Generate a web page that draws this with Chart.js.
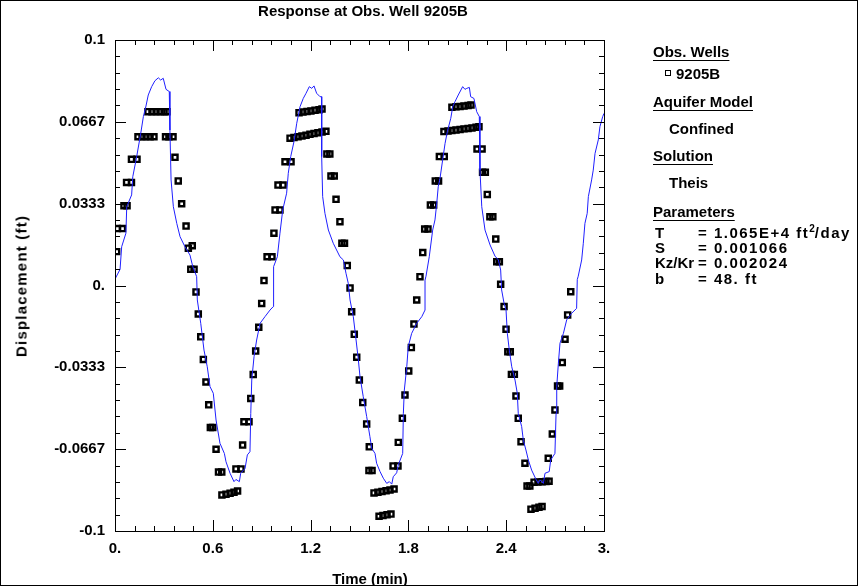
<!DOCTYPE html>
<html>
<head>
<meta charset="utf-8">
<title>Response at Obs. Well 9205B</title>
<script src="https://cdn.jsdelivr.net/npm/chart.js@4.4.1/dist/chart.umd.min.js"></script>
<style>
  body { margin: 0; background: #fff; }
  #wrap { position: relative; width: 858px; height: 586px; overflow: hidden; }
  #wrap canvas { position: absolute; left: 0; top: 0; }
  #frame { position: absolute; left: 0; top: 0; width: 858px; height: 586px; box-sizing: border-box; border: 1px solid #000; pointer-events: none; }
  .info { position: absolute; font: bold 15px "Liberation Sans", Arial, sans-serif; line-height: 15px; color: #000; white-space: nowrap; }
  .hd { text-decoration: underline; text-decoration-thickness: 1px; text-underline-offset: 3px; }
  .nm { display: inline-block; width: 43px; }
  .val { letter-spacing: 1.5px; }
  .box { position: absolute; width: 4px; height: 4px; border: 1.2px solid #000; }
  sup { font-size: 10px; line-height: 0; vertical-align: 6px; letter-spacing: 0; }
  .ctr { transform: translateX(-50%); }
  .rot { transform: translate(-50%, -50%) rotate(-90deg); letter-spacing: 1.2px; }
</style>
</head>
<body>
<div id="wrap">
  <canvas id="chart" width="858" height="586"></canvas>
  <div class="info ctr" style="left:363px; top:3px;">Response at Obs. Well 9205B</div>
  <div class="info ctr" style="left:370px; top:571px;">Time (min)</div>
  <div class="info rot" style="left:20.5px; top:285.5px;">Displacement (ft)</div>
  <div class="info hd" style="left:653px; top:44px;">Obs. Wells</div>
  <div class="box" style="left:665px; top:70px;"></div>
  <div class="info" style="left:676px; top:66px;">9205B</div>
  <div class="info hd" style="left:653px; top:94px;">Aquifer Model</div>
  <div class="info" style="left:669px; top:121px;">Confined</div>
  <div class="info hd" style="left:653px; top:148px;">Solution</div>
  <div class="info" style="left:669px; top:175px;">Theis</div>
  <div class="info hd" style="left:653px; top:204px;">Parameters</div>
  <div class="info" style="left:655px; top:225px;"><span class="nm">T</span><span class="val">= 1.065E+4 ft<sup>2</sup>/day</span></div>
  <div class="info" style="left:655px; top:240px;"><span class="nm">S</span><span class="val">= 0.001066</span></div>
  <div class="info" style="left:655px; top:255px;"><span class="nm">Kz/Kr</span><span class="val">= 0.002024</span></div>
  <div class="info" style="left:655px; top:271px;"><span class="nm">b</span><span class="val">= 48. ft</span></div>
  <div id="frame"></div>
</div>
<script>
// observed displacement at well 9205B (time in min, displacement in ft)
const obsTime = [
  0.010, 0.015, 0.046, 0.055, 0.074, 0.071, 0.101, 0.101, 0.135,
  0.141, 0.166, 0.190, 0.215, 0.239,
  0.202, 0.227, 0.252, 0.276, 0.301, 0.319,
  0.310, 0.331, 0.356, 0.368, 0.388, 0.409, 0.436, 0.450, 0.474, 0.465, 0.485,
  0.497, 0.511, 0.526, 0.542, 0.558, 0.575, 0.585, 0.600, 0.620, 0.635, 0.655,
  0.656, 0.681, 0.706, 0.730, 0.752,
  0.742, 0.773, 0.783, 0.791, 0.822, 0.833, 0.848, 0.863, 0.882, 0.900, 0.914,
  0.933, 0.963, 0.975, 0.982, 1.012, 1.000, 1.031, 1.043, 1.080,
  1.074, 1.098, 1.123, 1.147, 1.172, 1.196, 1.221, 1.245, 1.270, 1.294,
  1.129, 1.153, 1.178, 1.202, 1.227, 1.252, 1.270,
  1.300, 1.318, 1.325, 1.345, 1.356, 1.380, 1.392, 1.408, 1.425,
  1.442, 1.452, 1.468, 1.483, 1.499, 1.520, 1.544, 1.560, 1.558, 1.577,
  1.589, 1.613, 1.638, 1.663, 1.687, 1.712,
  1.620, 1.644, 1.669, 1.693,
  1.706, 1.736, 1.738, 1.763, 1.779, 1.802, 1.818, 1.834, 1.851, 1.871, 1.888,
  1.900, 1.920, 1.935, 1.955, 1.965, 1.985, 1.990, 2.020,
  2.018, 2.043, 2.067, 2.092, 2.117, 2.141, 2.166, 2.190, 2.215, 2.233,
  2.067, 2.092, 2.117, 2.141, 2.166, 2.184,
  2.221, 2.252, 2.255, 2.272, 2.284, 2.300, 2.318, 2.336, 2.342, 2.358, 2.366,
  2.387, 2.399, 2.410, 2.425, 2.432, 2.450, 2.460, 2.474, 2.491, 2.515, 2.528, 2.545,
  2.571, 2.595, 2.620, 2.644, 2.663,
  2.552, 2.577, 2.601, 2.620,
  2.658, 2.683, 2.699, 2.715, 2.728, 2.744, 2.761, 2.777, 2.796
];
const obsDisp = [
  0.0138, 0.0232, 0.0232, 0.0325, 0.0325, 0.0420, 0.0420, 0.0514, 0.0514,
  0.0606, 0.0606, 0.0606, 0.0606, 0.0606,
  0.0708, 0.0708, 0.0708, 0.0708, 0.0708, 0.0708,
  0.0606, 0.0606, 0.0606, 0.0522, 0.0426, 0.0333, 0.0242, 0.0152, 0.0162, 0.0066, 0.0066,
  -0.0026, -0.0116, -0.0209, -0.0301, -0.0393, -0.0486, -0.0578, -0.0578, -0.0667, -0.0760, -0.0760,
  -0.0853, -0.0850, -0.0846, -0.0842, -0.0837,
  -0.0747, -0.0747, -0.0650, -0.0555, -0.0555, -0.0460, -0.0363, -0.0267, -0.0170, -0.0073, 0.0020,
  0.0117, 0.0117, 0.0213, 0.0308, 0.0308, 0.0409, 0.0409, 0.0504, 0.0504,
  0.0600, 0.0603, 0.0606, 0.0609, 0.0612, 0.0616, 0.0619, 0.0622, 0.0625, 0.0628,
  0.0704, 0.0707, 0.0709, 0.0711, 0.0714, 0.0716, 0.0719,
  0.0536, 0.0536, 0.0446, 0.0446, 0.0351, 0.0260, 0.0172, 0.0172, 0.0081,
  -0.0010, -0.0107, -0.0199, -0.0292, -0.0385, -0.0477, -0.0564, -0.0657, -0.0754, -0.0754,
  -0.0845, -0.0842, -0.0839, -0.0836, -0.0833, -0.0829,
  -0.0940, -0.0937, -0.0934, -0.0931,
  -0.0735, -0.0735, -0.0639, -0.0541, -0.0446, -0.0348, -0.0253, -0.0157, -0.0059, 0.0036, 0.0134,
  0.0230, 0.0230, 0.0328, 0.0328, 0.0426, 0.0426, 0.0525, 0.0525,
  0.0627, 0.0629, 0.0631, 0.0633, 0.0635, 0.0638, 0.0640, 0.0642, 0.0645, 0.0647,
  0.0726, 0.0728, 0.0729, 0.0731, 0.0733, 0.0735,
  0.0556, 0.0556, 0.0461, 0.0461, 0.0371, 0.0280, 0.0280, 0.0189, 0.0097, 0.0097, 0.0005,
  -0.0086, -0.0178, -0.0270, -0.0270, -0.0362, -0.0362, -0.0450, -0.0541, -0.0636, -0.0724, -0.0817, -0.0817,
  -0.0801, -0.0800, -0.0799, -0.0798, -0.0797,
  -0.0911, -0.0907, -0.0903, -0.0900,
  -0.0704, -0.0605, -0.0507, -0.0409, -0.0409, -0.0314, -0.0219, -0.0120, -0.0025
];

// Theis type curve (solid blue)
const modelTime = [
  0.000, 0.031, 0.041, 0.067, 0.072, 0.102, 0.109, 0.133, 0.158, 0.174, 0.190, 0.204, 0.225, 0.245,
  0.266, 0.280, 0.296, 0.313, 0.333, 0.337, 0.344, 0.358, 0.379, 0.399, 0.429, 0.460, 0.477, 0.501,
  0.505, 0.526, 0.546, 0.566, 0.583, 0.603, 0.620, 0.644, 0.671, 0.681, 0.706, 0.730, 0.742, 0.763,
  0.771, 0.798, 0.812, 0.828, 0.833, 0.839, 0.853, 0.869, 0.890, 0.920, 0.951, 0.971, 0.971, 0.975,
  0.996, 1.012, 1.029, 1.053, 1.063, 1.078, 1.098, 1.115, 1.135, 1.155, 1.172, 1.192, 1.207, 1.221,
  1.237, 1.258, 1.268, 1.268, 1.274, 1.288, 1.309, 1.339, 1.380, 1.401, 1.417, 1.431, 1.442, 1.462,
  1.479, 1.493, 1.503, 1.523, 1.544, 1.564, 1.575, 1.595, 1.605, 1.626, 1.646, 1.667, 1.683, 1.698,
  1.707, 1.728, 1.738, 1.765, 1.769, 1.775, 1.790, 1.799, 1.820, 1.851, 1.882, 1.902, 1.902, 1.908,
  1.928, 1.949, 1.963, 1.974, 1.983, 1.994, 2.010, 2.025, 2.039, 2.060, 2.072, 2.086, 2.106, 2.133,
  2.147, 2.158, 2.174, 2.182, 2.202, 2.219, 2.235, 2.239, 2.250, 2.270, 2.301, 2.331, 2.352, 2.366,
  2.372, 2.387, 2.399, 2.407, 2.419, 2.434, 2.454, 2.468, 2.474, 2.495, 2.505, 2.521, 2.536, 2.556,
  2.583, 2.597, 2.607, 2.628, 2.638, 2.664, 2.673, 2.699, 2.706, 2.710, 2.720, 2.730, 2.751, 2.771,
  2.802, 2.832, 2.836, 2.842, 2.863, 2.873, 2.883, 2.897, 2.904, 2.924, 2.934, 2.945, 2.965, 2.975,
  2.992, 3.000
];
const modelDisp = [
  0.0026, 0.0066, 0.0158, 0.0213, 0.0321, 0.0369, 0.0443, 0.0525, 0.0620, 0.0688, 0.0731, 0.0776, 0.0810, 0.0834,
  0.0846, 0.0837, 0.0844, 0.0799, 0.0790, 0.0633, 0.0430, 0.0321, 0.0253, 0.0199, 0.0158, 0.0124, 0.0077, 0.0036,
  -0.0059, -0.0154, -0.0263, -0.0331, -0.0412, -0.0439, -0.0548, -0.0643, -0.0684, -0.0718, -0.0765, -0.0799, -0.0790, -0.0799,
  -0.0765, -0.0745, -0.0690, -0.0677, -0.0521, -0.0385, -0.0290, -0.0222, -0.0154, -0.0127, -0.0100, -0.0086, 0.0022, 0.0077,
  0.0117, 0.0213, 0.0308, 0.0376, 0.0457, 0.0525, 0.0586, 0.0661, 0.0728, 0.0762, 0.0783, 0.0810, 0.0803, 0.0813,
  0.0783, 0.0769, 0.0769, 0.0525, 0.0362, 0.0294, 0.0226, 0.0172, 0.0117, 0.0104, 0.0050, 0.0009, -0.0059, -0.0127,
  -0.0222, -0.0303, -0.0371, -0.0453, -0.0534, -0.0616, -0.0663, -0.0684, -0.0724, -0.0758, -0.0785, -0.0806, -0.0799, -0.0809,
  -0.0779, -0.0763, -0.0731, -0.0684, -0.0521, -0.0426, -0.0331, -0.0249, -0.0195, -0.0154, -0.0127, -0.0100, 0.0022, 0.0038,
  0.0117, 0.0226, 0.0267, 0.0335, 0.0402, 0.0437, 0.0511, 0.0579, 0.0627, 0.0681, 0.0728, 0.0749, 0.0776, 0.0810,
  0.0799, 0.0803, 0.0807, 0.0769, 0.0762, 0.0708, 0.0688, 0.0470, 0.0321, 0.0226, 0.0165, 0.0120, 0.0104, 0.0063,
  -0.0018, -0.0073, -0.0100, -0.0195, -0.0263, -0.0331, -0.0385, -0.0439, -0.0521, -0.0575, -0.0630, -0.0670, -0.0711, -0.0752,
  -0.0790, -0.0806, -0.0792, -0.0806, -0.0765, -0.0758, -0.0711, -0.0684, -0.0521, -0.0412, -0.0317, -0.0235, -0.0195, -0.0140,
  -0.0113, -0.0093, 0.0024, 0.0038, 0.0104, 0.0172, 0.0253, 0.0294, 0.0362, 0.0430, 0.0470, 0.0538, 0.0593, 0.0647,
  0.0688, 0.0701
];

const xTickVals = [0, 0.6, 1.2, 1.8, 2.4, 3];
const xTickText = ['0.', '0.6', '1.2', '1.8', '2.4', '3.'];
const yTickVals = [-0.1, -0.0667, -0.0333, 0, 0.0333, 0.0667, 0.1];
const yTickText = ['-0.1', '-0.0667', '-0.0333', '0.', '0.0333', '0.0667', '0.1'];

const FONT = '"Liberation Sans", Arial, sans-serif';

// plot frame with inward major/minor ticks on all four sides
const frameTicks = {
  id: 'frameTicks',
  afterDraw(chart) {
    const { ctx, chartArea: a } = chart;
    const xs = chart.scales.x, ys = chart.scales.y;
    const L = Math.round(a.left), R = Math.round(a.right);
    const T = Math.round(a.top), B = Math.round(a.bottom);
    ctx.save();
    ctx.fillStyle = '#000';
    for (let i = 0; i <= 25; i++) {
      const px = Math.round(xs.getPixelForValue(i * 0.12));
      const len = i % 5 === 0 ? 11 : 5;
      ctx.fillRect(px, B - len, 1, len);
      ctx.fillRect(px, T, 1, len);
    }
    for (let i = 0; i <= 30; i++) {
      const py = Math.round(ys.getPixelForValue(-0.1 + i * 0.2 / 30));
      const len = i % 5 === 0 ? 11 : 5;
      ctx.fillRect(L, py, len, 1);
      ctx.fillRect(R - len, py, len, 1);
    }
    ctx.fillRect(L, T, R - L + 1, 1);
    ctx.fillRect(L, B, R - L + 1, 1);
    ctx.fillRect(L, T, 1, B - T + 1);
    ctx.fillRect(R, T, 1, B - T + 1);
    ctx.restore();
  }
};

const ctx = document.getElementById('chart').getContext('2d');
new Chart(ctx, {
  type: 'scatter',
  data: {
    datasets: [
      {
        label: 'Theis',
        data: modelTime.map((t, i) => ({ x: t, y: modelDisp[i] })),
        showLine: true,
        borderColor: '#1f1fff',
        borderWidth: 1,
        pointRadius: 0,
        tension: 0
      },
      {
        label: '9205B',
        data: obsTime.map((t, i) => ({ x: t, y: obsDisp[i] })),
        pointStyle: 'rect',
        pointRadius: 3.6,
        borderWidth: 2.4,
        borderColor: '#000',
        backgroundColor: 'rgba(0,0,0,0)'
      }
    ]
  },
  options: {
    responsive: false,
    animation: false,
    devicePixelRatio: 1,
    layout: { padding: { left: 0, right: 254, top: 40, bottom: 0 } },
    plugins: {
      legend: { display: false },
      tooltip: { enabled: false },
      title: { display: false }
    },
    scales: {
      x: {
        type: 'linear',
        min: 0,
        max: 3,
        grid: { display: false, drawTicks: false },
        border: { display: false },
        afterBuildTicks: s => { s.ticks = xTickVals.map(v => ({ value: v })); },
        afterFit: s => { s.height = 55; },
        ticks: {
          autoSkip: false,
          maxRotation: 0,
          padding: 9,
          color: '#000',
          font: { family: FONT, size: 15, weight: 'bold' },
          callback: (v, i) => xTickText[i]
        }
      },
      y: {
        type: 'linear',
        min: -0.1,
        max: 0.1,
        grid: { display: false, drawTicks: false },
        border: { display: false },
        afterBuildTicks: s => { s.ticks = yTickVals.map(v => ({ value: v })); },
        afterFit: s => { s.width = 115; },
        ticks: {
          autoSkip: false,
          padding: 10,
          color: '#000',
          font: { family: FONT, size: 15, weight: 'bold' },
          callback: (v, i) => yTickText[i]
        }
      }
    }
  },
  plugins: [frameTicks]
});
</script>
</body>
</html>
